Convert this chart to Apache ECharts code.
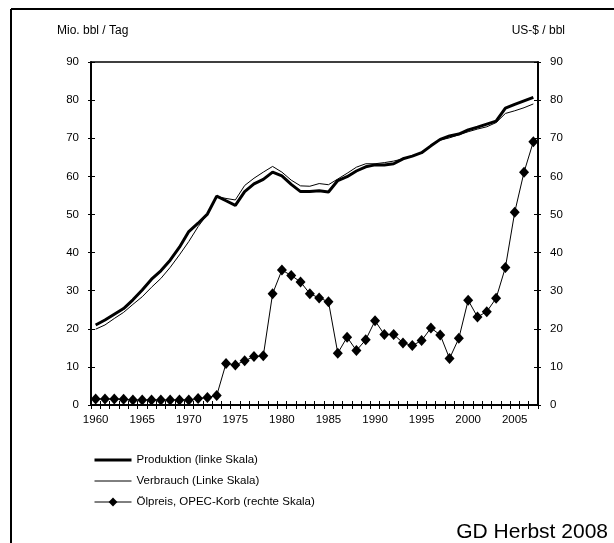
<!DOCTYPE html>
<html>
<head>
<meta charset="utf-8">
<script src="https://cdn.jsdelivr.net/npm/echarts@6/dist/echarts.min.js"></script>
<style>
  html, body { margin: 0; padding: 0; background: #fff; }
  #main { width: 614px; height: 543px; }
</style>
</head>
<body>
<div id="main"></div>
<script>
// Jahre 1960 - 2007
var years = [];
for (var y = 1960; y <= 2007; y++) years.push(String(y));

// Mio. bbl / Tag
var produktion = [21.0, 22.3, 23.8, 25.3, 27.6, 30.2, 33.0, 35.2, 38.0, 41.4,
  45.5, 47.7, 50.1, 54.8, 53.6, 52.4, 56.0, 58.0, 59.2, 61.1,
  60.1, 57.9, 56.0, 56.0, 56.2, 55.9, 58.9, 59.9, 61.4, 62.5,
  63.0, 63.0, 63.3, 64.6, 65.3, 66.2, 68.0, 69.7, 70.6, 71.1,
  72.2, 72.9, 73.7, 74.5, 77.9, 78.9, 79.8, 80.7];
var verbrauch = [19.9, 21.0, 22.7, 24.3, 26.4, 28.4, 30.9, 33.2, 36.1, 39.4,
  42.9, 46.8, 50.1, 54.7, 54.2, 53.8, 57.6, 59.5, 61.1, 62.6,
  61.1, 59.0, 57.5, 57.4, 58.1, 57.8, 59.3, 60.8, 62.4, 63.3,
  63.3, 63.6, 64.0, 64.6, 65.3, 66.2, 68.0, 69.5, 70.1, 70.9,
  71.7, 72.4, 73.0, 74.1, 76.5, 77.2, 78.0, 79.0];
// US-$ / bbl
var oelpreis = [1.6, 1.6, 1.6, 1.5, 1.3, 1.3, 1.3, 1.3, 1.3, 1.3,
  1.3, 1.7, 2.0, 2.5, 10.9, 10.5, 11.6, 12.7, 12.9, 29.2,
  35.4, 34.0, 32.3, 29.2, 28.1, 27.1, 13.6, 17.8, 14.3, 17.1,
  22.1, 18.5, 18.5, 16.3, 15.6, 16.9, 20.2, 18.4, 12.2, 17.5,
  27.5, 23.1, 24.5, 28.0, 36.1, 50.6, 61.1, 69.1];

var fam = 'Liberation Sans, Arial, sans-serif';

function valAxis(pos, inside, labels) {
  return {
    type: 'value', position: pos, min: 0, max: 90, interval: 10,
    axisLine: { show: true, lineStyle: { color: '#000', width: 1.5 } },
    axisTick: { show: true, inside: inside, length: inside ? 4 : 3, lineStyle: { color: '#000' } },
    axisLabel: { show: labels, color: '#000', fontFamily: fam, fontSize: 11.5, margin: 12 },
    splitLine: { show: false }
  };
}
function catAxis(inside, labels) {
  return {
    type: 'category', position: 'bottom', data: years, boundaryGap: true,
    axisLine: { show: true, lineStyle: { color: '#000', width: 1.5 } },
    axisTick: { show: true, inside: inside, length: 4, interval: 0, lineStyle: { color: '#000' } },
    axisLabel: { show: labels, interval: 4, color: '#000', fontFamily: fam, fontSize: 11.5, margin: 9 }
  };
}

var chart = echarts.init(document.getElementById('main'));
chart.setOption({
  animation: false,
  backgroundColor: '#fff',
  grid: { left: 91, right: 76, top: 62, bottom: 138, show: true, borderColor: '#000', borderWidth: 1.5 },
  xAxis: [catAxis(false, true), catAxis(true, false)],
  yAxis: [valAxis('left', false, true), valAxis('right', false, true),
          valAxis('left', true, false), valAxis('right', true, false)],
  legend: {
    orient: 'vertical', left: 88, top: 449, itemWidth: 37, itemHeight: 11, itemGap: 9,
    lineStyle: { width: 'inherit' },
    textStyle: { color: '#000', fontFamily: fam, fontSize: 11.5 },
    data: ['Produktion (linke Skala)', 'Verbrauch (Linke Skala)', 'Ölpreis, OPEC-Korb (rechte Skala)']
  },
  graphic: [
    { type: 'line', shape: { x1: 11, y1: 9, x2: 614, y2: 9 }, style: { stroke: '#000', lineWidth: 2 } },
    { type: 'line', shape: { x1: 11, y1: 9, x2: 11, y2: 543 }, style: { stroke: '#000', lineWidth: 2 } },
    { type: 'text', left: 57, top: 25, style: { text: 'Mio. bbl / Tag', fill: '#000', font: '12px "Liberation Sans", Arial, sans-serif' } },
    { type: 'text', right: 49, top: 25, style: { text: 'US-$ / bbl', fill: '#000', font: '12px "Liberation Sans", Arial, sans-serif' } },
    { type: 'text', right: 6, top: 522, style: { text: 'GD Herbst 2008', fill: '#000', font: '21px "Liberation Sans", Arial, sans-serif' } }
  ],
  series: [
    {
      name: 'Produktion (linke Skala)', type: 'line', data: produktion, yAxisIndex: 0,
      symbol: 'none', lineStyle: { color: '#000', width: 3 }, itemStyle: { color: 'rgba(0,0,0,0)' }
    },
    {
      name: 'Verbrauch (Linke Skala)', type: 'line', data: verbrauch, yAxisIndex: 0,
      symbol: 'none', lineStyle: { color: '#000', width: 1 }, itemStyle: { color: 'rgba(0,0,0,0)' }
    },
    {
      name: 'Ölpreis, OPEC-Korb (rechte Skala)', type: 'line', data: oelpreis, yAxisIndex: 1,
      symbol: 'diamond', symbolSize: [10, 11], showAllSymbol: true,
      lineStyle: { color: '#000', width: 1 }, itemStyle: { color: '#000' }
    }
  ]
});
</script>
</body>
</html>
